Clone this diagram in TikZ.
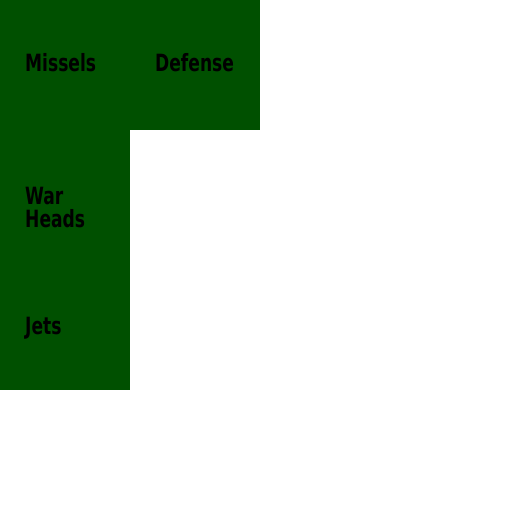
\documentclass[tikz,border=0pt]{standalone}
\usepackage{fontspec}
\newfontfamily\labelfont{DejaVu Sans Condensed}[BoldFont={DejaVu Sans Condensed Bold}]
\definecolor{tile}{HTML}{005000}
\begin{document}
\begin{tikzpicture}[x=1pt,y=-1pt,
  tilebox/.style={fill=tile,draw=none},
  tilelabel/.style={anchor=base west,inner sep=0pt,yscale=1.25,transform shape,font=\labelfont\bfseries\fontsize{19}{18.4}\selectfont,text=black,align=left}]
\useasboundingbox[fill=white] (0,0) rectangle (512,512);
\fill[tile] (0,0) rectangle (260,130);
\fill[tile] (0,130) rectangle (130,390);
\node[tilelabel] (m) at (25,71) {Missels};
\node[tilelabel] (d) at (155,71) {Defense};
\node[tilelabel] (w) at (25,227) {War\\Heads};
\node[tilelabel] (j) at (25,334) {Jets};
\end{tikzpicture}
\end{document}
